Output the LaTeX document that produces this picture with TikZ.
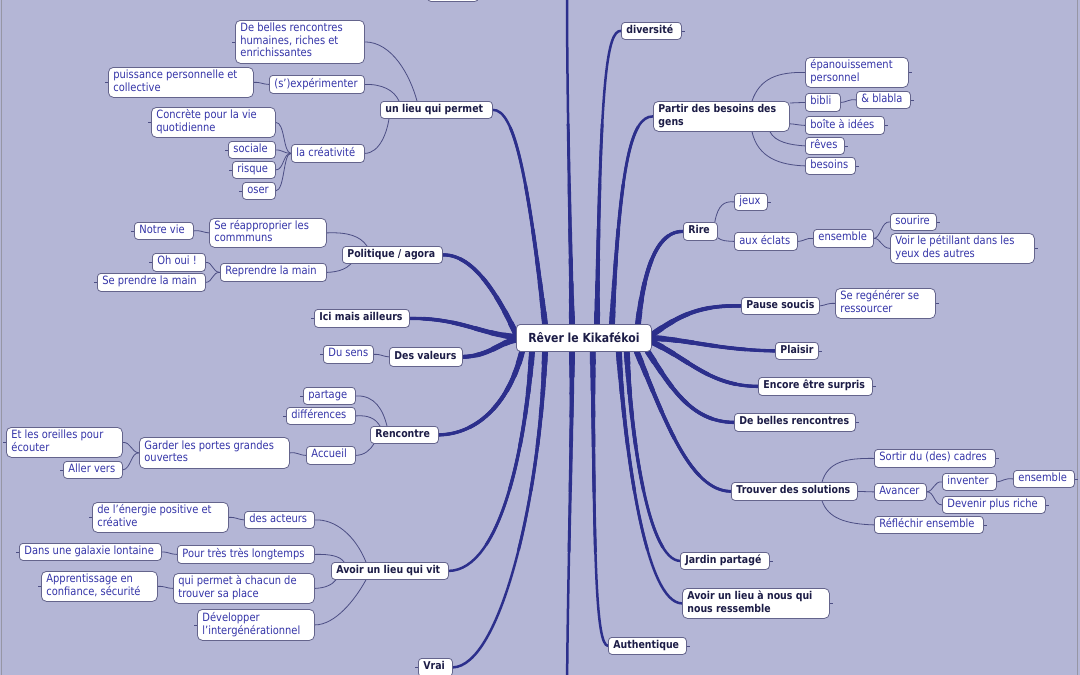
\documentclass[tikz,border=0pt]{standalone}
\usepackage{fontspec}
\setmainfont[FakeStretch=0.87]{DejaVu Sans}
\usetikzlibrary{calc}
\definecolor{bgc}{RGB}{180,182,214}
\definecolor{thk}{RGB}{44,47,140}
\definecolor{thn}{RGB}{76,78,132}
\definecolor{brd}{RGB}{100,100,140}
\definecolor{mtxt}{RGB}{28,28,70}
\definecolor{ltxt}{RGB}{52,52,168}
\definecolor{edge}{RGB}{150,150,165}
\pgfdeclarelayer{back}\pgfdeclarelayer{lines}
\pgfsetlayers{back,lines,main}
\newcommand\mmbox[7]{%
 \pgfmathsetmacro\mmw{#5-#3}%
 \pgfmathsetmacro\mmh{#6-#4}%
 \pgfmathsetmacro\mmt{#5-#3-10}%
 \node[#2,anchor=north west,minimum width=\mmw pt,minimum height=\mmh pt,inner xsep=5pt,inner ysep=0pt] (#1) at (#3,#4) {\makebox[\mmt pt][l]{\begin{tabular}{@{}l@{}}#7\end{tabular}}};}
\tikzset{
 boxbase/.style={draw=brd, fill=white, line width=0.8pt, rounded corners=3.5pt},
 mainb/.style={boxbase, text=mtxt, font=\fontsize{10.8}{12.5}\selectfont\bfseries},
 leafb/.style={boxbase, text=ltxt, font=\fontsize{11.4}{12.5}\selectfont},
 big/.style={rounded corners=5pt},
 seg/.style={draw=thk, line width=#1, line cap=round},
 trunk/.style={draw=thk, line width=2.5pt, line cap=round,
   preaction={seg=2.9pt, dash pattern=on 200pt off 3000pt},
   preaction={seg=3.3pt, dash pattern=on 140pt off 3000pt},
   preaction={seg=3.7pt, dash pattern=on 95pt off 3000pt},
   preaction={seg=4.1pt, dash pattern=on 65pt off 3000pt},
   preaction={seg=4.6pt, dash pattern=on 42pt off 3000pt},
   preaction={seg=5.2pt, dash pattern=on 25pt off 3000pt},
   preaction={seg=5.8pt, dash pattern=on 12pt off 3000pt}},
 twig/.style={draw=thn, line width=0.8pt},
 tickmark/.style={draw=thn, line width=0.7pt},
}
\begin{document}
\begin{tikzpicture}[x=1pt,y=-1pt]
\useasboundingbox (0,0) rectangle (1080,675);
\begin{pgfonlayer}{back}
\fill[bgc] (0,0) rectangle (1080,675);
\draw[edge,line width=1pt] (1.5,0) -- (1.5,675);
\draw[edge,line width=1pt] (1077.5,0) -- (1077.5,675);
\end{pgfonlayer}
% centre
\node[boxbase,rounded corners=4pt,text=mtxt,font=\fontsize{12.5}{14}\selectfont\bfseries,anchor=north west,minimum width=135pt,minimum height=27pt,inner sep=0pt] (c) at (516,324) {R\^ever le Kikaf\'ekoi};
\coordinate (topend) at (567,-10);
\coordinate (botend) at (567,690);
% left side
\mmbox{dbr}{leafb,big}{235}{20}{364}{63}{De belles rencontres\\humaines, riches et\\enrichissantes}
\mmbox{pui}{leafb,big}{108}{67}{253}{97}{puissance personnelle et\\collective}
\mmbox{sexp}{leafb}{269}{75}{364}{93}{(s')expérimenter}
\mmbox{ulp}{mainb}{380}{101}{492}{118}{un lieu qui permet}
\mmbox{con}{leafb,big}{151}{107}{275}{137}{Concrète pour la vie\\quotidienne}
\mmbox{cre}{leafb}{291}{144}{364}{162}{la créativité}
\mmbox{soc}{leafb}{228}{141}{275}{158}{sociale}
\mmbox{ris}{leafb}{232}{161}{275}{178}{risque}
\mmbox{ose}{leafb}{242}{182}{275}{199}{oser}
\mmbox{nv}{leafb}{134}{222}{193}{239}{Notre vie}
\mmbox{sre}{leafb,big}{209}{218}{326}{247}{Se réapproprier les\\commmuns}
\mmbox{pol}{mainb}{342}{246}{442}{263}{Politique / agora}
\mmbox{oho}{leafb}{152}{253}{205}{271}{Oh oui !}
\mmbox{rlm}{leafb}{220}{263}{326}{281}{Reprendre la main}
\mmbox{spm}{leafb}{97}{273}{205}{291}{Se prendre la main}
\mmbox{ima}{mainb}{314}{309}{409}{327}{Ici mais ailleurs}
\mmbox{dus}{leafb}{323}{345}{373}{363}{Du sens}
\mmbox{dva}{mainb}{389}{347}{462}{366}{Des valeurs}
\mmbox{par}{leafb}{303}{387}{355}{404}{partage}
\mmbox{dif}{leafb}{286}{407}{355}{424}{différences}
\mmbox{ren}{mainb}{370}{426}{438}{443}{Rencontre}
\mmbox{eto}{leafb,big}{6}{427}{122}{457}{Et les oreilles pour\\écouter}
\mmbox{gpg}{leafb,big}{139}{437}{289}{468}{Garder les portes grandes\\ouvertes}
\mmbox{acc}{leafb}{306}{446}{355}{464}{Accueil}
\mmbox{alr}{leafb}{63}{461}{122}{478}{Aller vers}
\mmbox{nrg}{leafb,big}{92}{502}{228}{532}{de l'énergie positive et\\créative}
\mmbox{act}{leafb}{244}{511}{314}{528}{des acteurs}
\mmbox{gal}{leafb}{19}{543}{161}{560}{Dans une galaxie lontaine}
\mmbox{ptt}{leafb}{177}{545}{314}{563}{Pour très très longtemps}
\mmbox{alv}{mainb}{331}{562}{448}{579}{Avoir un lieu qui vit}
\mmbox{app}{leafb,big}{41}{571}{157}{601}{Apprentissage en\\confiance, sécurité}
\mmbox{qpc}{leafb,big}{173}{573}{314}{603}{qui permet à chacun de\\trouver sa place}
\mmbox{dev}{leafb,big}{197}{609}{314}{640}{Développer\\l'intergénérationnel}
\mmbox{vra}{mainb}{418}{658}{452}{676}{Vrai}
\mmbox{topn}{mainb}{427}{-17}{478}{1}{}
% right side
\mmbox{div}{mainb}{621}{22}{681}{39}{diversité}
\mmbox{pdb}{mainb,big}{653}{101}{789}{131}{Partir des besoins des\\gens}
\mmbox{epa}{leafb,big}{805}{57}{908}{87}{épanouissement\\personnel}
\mmbox{bib}{leafb}{805}{93}{840}{111}{bibli}
\mmbox{bla}{leafb}{856}{91}{910}{108}{\& blabla}
\mmbox{boi}{leafb}{805}{116}{884}{134}{boîte à idées}
\mmbox{rev}{leafb}{805}{137}{844}{154}{rêves}
\mmbox{bes}{leafb}{805}{157}{855}{174}{besoins}
\mmbox{jeu}{leafb}{734}{193}{767}{210}{jeux}
\mmbox{rir}{mainb}{683}{222}{717}{240}{Rire}
\mmbox{aux}{leafb}{734}{232}{797}{250}{aux éclats}
\mmbox{ens}{leafb}{813}{229}{873}{247}{ensemble}
\mmbox{sou}{leafb}{890}{213}{936}{230}{sourire}
\mmbox{voi}{leafb,big}{890}{233}{1034}{263}{Voir le pétillant dans les\\yeux des autres}
\mmbox{pso}{mainb}{741}{297}{819}{314}{Pause soucis}
\mmbox{reg}{leafb,big}{835}{288}{935}{318}{Se regénérer se\\ressourcer}
\mmbox{pla}{mainb}{775}{342}{818}{359}{Plaisir}
\mmbox{enc}{mainb}{758}{377}{872}{395}{Encore être surpris}
\mmbox{dbr2}{mainb}{734}{413}{855}{431}{De belles rencontres}
\mmbox{tds}{mainb}{731}{482}{857}{500}{Trouver des solutions}
\mmbox{sor}{leafb}{874}{449}{995}{467}{Sortir du (des) cadres}
\mmbox{ava}{leafb}{874}{483}{926}{500}{Avancer}
\mmbox{inv}{leafb}{942}{473}{996}{490}{inventer}
\mmbox{ens2}{leafb}{1013}{470}{1074}{487}{ensemble}
\mmbox{dpr}{leafb}{942}{496}{1045}{513}{Devenir plus riche}
\mmbox{ref}{leafb}{874}{516}{983}{533}{Réfléchir ensemble}
\mmbox{jar}{mainb}{680}{552}{769}{569}{Jardin partagé}
\mmbox{aln}{mainb,big}{682}{588}{829}{618}{Avoir un lieu à nous qui\\nous ressemble}
\mmbox{aut}{mainb}{608}{637}{686}{654}{Authentique}
\begin{pgfonlayer}{lines}
% thick branches (drawn from the centre outwards, tapering)
\draw[trunk] ($(c.north west)+(29,0)$) .. controls (528,180) and (515,109) .. (ulp.east);
\draw[trunk] ($(c.west)+(0,-4)$) .. controls (500,300) and (475,254) .. (pol.east);
\draw[trunk] ($(c.west)+(0,-1)$) .. controls (480,334) and (460,318) .. (ima.east);
\draw[trunk] ($(c.west)+(0,2)$) .. controls (500,342) and (490,356) .. (dva.east);
\draw[trunk] ($(c.south west)+(6,0)$) .. controls (510,400) and (480,434) .. (ren.east);
\draw[trunk] ($(c.south west)+(16,0)$) .. controls (525,450) and (500,570) .. (alv.east);
\draw[trunk] ($(c.south west)+(29,0)$) .. controls (540,500) and (500,666) .. (vra.east);
\draw[trunk] ($(c.south west)+(56,0)$) .. controls (572,450) and (568,560) .. (botend);
\draw[trunk] ($(c.north west)+(56,0)$) .. controls (570,220) and (567,100) .. (topend);
\draw[trunk] ($(c.north west)+(81,0)$) .. controls (600,80) and (607,30) .. (div.west);
\draw[trunk] ($(c.north west)+(96,0)$) .. controls (620,170) and (630,116) .. (pdb.west);
\draw[trunk] ($(c.north west)+(122,0)$) .. controls (645,260) and (660,231) .. (rir.west);
\draw[trunk] ($(c.east)+(0,-3)$) .. controls (680,315) and (700,305) .. (pso.west);
\draw[trunk] (c.east) .. controls (690,340) and (720,350) .. (pla.west);
\draw[trunk] ($(c.east)+(0,4)$) .. controls (690,360) and (710,386) .. (enc.west);
\draw[trunk] ($(c.south east)+(-4,0)$) .. controls (670,385) and (690,422) .. (dbr2.west);
\draw[trunk] ($(c.south east)+(-15,0)$) .. controls (665,420) and (690,491) .. (tds.west);
\draw[trunk] ($(c.south east)+(-25,0)$) .. controls (632,450) and (650,560) .. (jar.west);
\draw[trunk] ($(c.south east)+(-33,0)$) .. controls (625,450) and (645,603) .. (aln.west);
\draw[trunk] ($(c.south east)+(-59,0)$) .. controls (594,560) and (596,645) .. (aut.west);
% thin, left
\draw[twig] (dbr.east) .. controls (392,42) and (410,75) .. ($(ulp.north west)+(37,0)$);
\draw[twig] (sexp.east) .. controls (382,84) and (394,90) .. ($(ulp.north west)+(19,0)$);
\draw[twig] (cre.east) .. controls (380,153) and (387,132) .. ($(ulp.south west)+(9,0)$);
\draw[twig] (pui.east) .. controls (261,82) and (261,84) .. (sexp.west);
\draw[twig] (con.east) .. controls (285,122) and (283,153) .. (cre.west);
\draw[twig] (soc.east) .. controls (283,150) and (283,153) .. (cre.west);
\draw[twig] (ris.east) .. controls (284,170) and (283,153) .. (cre.west);
\draw[twig] (ose.east) .. controls (285,190) and (283,153) .. (cre.west);
\draw[twig] (sre.east) .. controls (348,232) and (360,236) .. ($(pol.north west)+(25,0)$);
\draw[twig] (rlm.east) .. controls (340,272) and (347,268) .. ($(pol.south west)+(9,0)$);
\draw[twig] (nv.east) .. controls (201,230) and (201,232) .. (sre.west);
\draw[twig] (oho.east) .. controls (213,262) and (212,272) .. (rlm.west);
\draw[twig] (spm.east) .. controls (213,282) and (212,272) .. (rlm.west);
\draw[twig] (dus.east) .. controls (381,354) and (381,356) .. (dva.west);
\draw[twig] (par.east) .. controls (375,395) and (383,410) .. ($(ren.north west)+(17,0)$);
\draw[twig] (dif.east) .. controls (368,415) and (375,418) .. ($(ren.north west)+(10,0)$);
\draw[twig] (acc.east) .. controls (365,455) and (370,450) .. ($(ren.south west)+(4,0)$);
\draw[twig] (gpg.east) .. controls (298,452) and (298,455) .. (acc.west);
\draw[twig] (eto.east) .. controls (131,442) and (131,452) .. (gpg.west);
\draw[twig] (alr.east) .. controls (131,469) and (131,452) .. (gpg.west);
\draw[twig] (act.east) .. controls (335,519) and (355,535) .. ($(alv.north west)+(35,0)$);
\draw[twig] (ptt.east) .. controls (330,554) and (340,556) .. ($(alv.north west)+(13,0)$);
\draw[twig] (qpc.east) .. controls (325,588) and (332,585) .. ($(alv.south west)+(5,0)$);
\draw[twig] (dev.east) .. controls (335,625) and (355,600) .. ($(alv.south west)+(35,0)$);
\draw[twig] (nrg.east) .. controls (236,517) and (236,519) .. (act.west);
\draw[twig] (gal.east) .. controls (169,552) and (169,554) .. (ptt.west);
\draw[twig] (app.east) .. controls (165,586) and (165,588) .. (qpc.west);
% thin, right
\draw[twig] ($(pdb.north west)+(99,0)$) .. controls (760,78) and (778,72) .. (epa.west);
\draw[twig] ($(pdb.north east)+(0,2)$) .. controls (797,103) and (797,102) .. (bib.west);
\draw[twig] ($(pdb.south east)+(0,-8)$) .. controls (795,124) and (797,125) .. (boi.west);
\draw[twig] ($(pdb.south west)+(117,0)$) .. controls (775,142) and (790,145) .. (rev.west);
\draw[twig] ($(pdb.south west)+(99,0)$) .. controls (758,158) and (780,165) .. (bes.west);
\draw[twig] (bib.east) .. controls (848,102) and (848,99) .. (bla.west);
\draw[twig] ($(rir.north east)+(-3,0)$) .. controls (718,205) and (724,201) .. (jeu.west);
\draw[twig] ($(rir.south east)+(0,-3)$) .. controls (722,241) and (726,241) .. (aux.west);
\draw[twig] (aux.east) .. controls (805,241) and (805,238) .. (ens.west);
\draw[twig] (ens.east) .. controls (881,238) and (881,221) .. (sou.west);
\draw[twig] (ens.east) .. controls (881,238) and (881,248) .. (voi.west);
\draw[twig] (pso.east) .. controls (827,305) and (827,303) .. (reg.west);
\draw[twig] ($(tds.north west)+(91,0)$) .. controls (828,462) and (845,458) .. (sor.west);
\draw[twig] (tds.east) -- (ava.west);
\draw[twig] ($(tds.south west)+(91,0)$) .. controls (828,518) and (845,524) .. (ref.west);
\draw[twig] (ava.east) .. controls (934,491) and (934,481) .. (inv.west);
\draw[twig] (ava.east) .. controls (934,491) and (934,505) .. (dpr.west);
\draw[twig] (inv.east) .. controls (1004,481) and (1004,478) .. (ens2.west);
% small stubs
\foreach \n in {dbr,pui,con,soc,ris,ose,nv,oho,spm,ima,dus,par,dif,eto,alr,nrg,gal,app,dev,vra}
  \draw[tickmark] (\n.west) -- ++(-3,0);
\foreach \n in {div,epa,bla,boi,rev,bes,jeu,sou,voi,reg,pla,enc,dbr2,sor,ens2,dpr,ref,jar,aln,aut}
  \draw[tickmark] (\n.east) -- ++(3,0);
\end{pgfonlayer}
\end{tikzpicture}
\end{document}
